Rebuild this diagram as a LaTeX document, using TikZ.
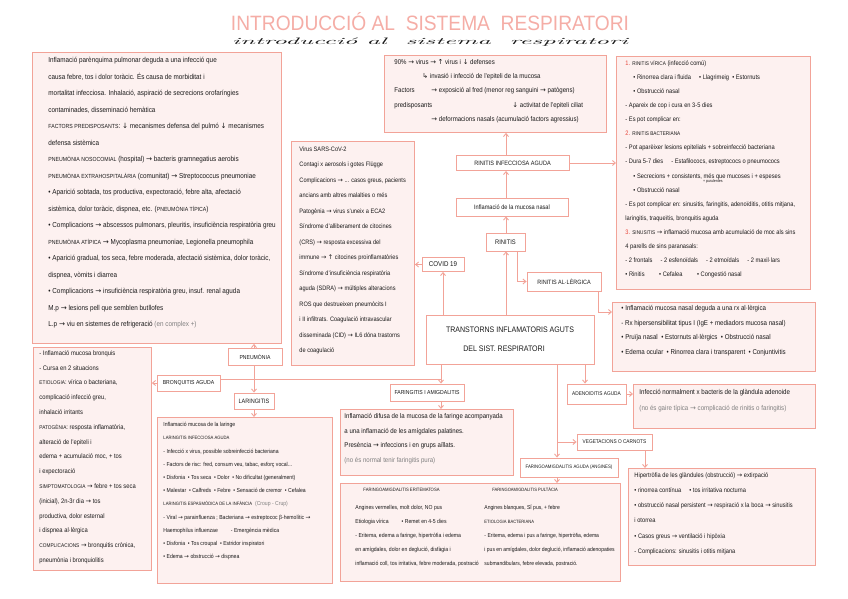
\documentclass[tikz,border=0pt]{standalone}
\usepackage{graphicx}
\usepackage{fontspec}
\setmainfont{Liberation Sans}[FakeStretch=0.88]
\newfontfamily\symf{DejaVu Sans}
\newfontfamily\scriptf{Latin Modern Roman}
\usetikzlibrary{arrows.meta}
\definecolor{linec}{HTML}{F2A398}
\definecolor{fillc}{HTML}{FDF1F0}
\definecolor{titc}{HTML}{F5ADA6}
\definecolor{redc}{HTML}{E8483C}
\definecolor{grayc}{HTML}{808080}
\definecolor{inkc}{HTML}{1A1A1A}
\newcommand\ra{{\symf\char"2192}}
\newcommand\ua{{\symf\char"2191}}
\newcommand\da{{\symf\char"2193}}
\newcommand\lsh{{\symf\char"21B3}}
\makeatletter
\newcommand\sca[1]{{\fontsize{\strip@pt\dimexpr0.82\dimexpr\f@size pt\relax\relax}{8}\selectfont #1}}
\makeatother
\newcommand\cardtxt[6]{\parbox[c][#2pt][t]{#1pt}{#5\leftskip=#3pt\rightskip=0pt plus 8em\parindent=0pt\parfillskip=0pt plus 1fil\vspace*{#4pt}#6}}
\tikzset{
  card/.style={draw=linec, fill=fillc, line width=0.9pt, anchor=north west, inner sep=0pt, text=inkc},
  lab/.style={draw=linec, fill=white, line width=0.9pt, inner sep=0pt, text=inkc, font=\fontsize{5.8}{7}\selectfont},
  conn/.style={draw=linec, line width=0.9pt},
  arr/.style={conn, -{Straight Barb[length=3pt,width=5pt]}},
}
\begin{document}
\begin{tikzpicture}[x=1pt,y=-1pt]
\useasboundingbox (0,0) rectangle (848,599);
\fill[white] (0,0) rectangle (848,599);

% title
\node[text=titc, inner sep=0pt] (title) at (430,22) {\resizebox{398pt}{18pt}{INTRODUCCIÓ AL\ \ SISTEMA\ \ RESPIRATORI}};
\node[text=inkc, inner sep=0pt] (subtitle) at (430,42.5) {\resizebox{396pt}{6.5pt}{\scriptf\itshape introducció al\ \ sistema\ \ respiratori}};

% pneumonia box
\node[card] (pneubox) at (32,52) {\cardtxt{249}{291}{16}{5}{\fontsize{7.2}{16.5}\selectfont}{%
Inflamació parènquima pulmonar deguda a una infecció que\\
causa febre, tos i dolor toràcic. És causa de morbiditat i\\
mortalitat infecciosa. Inhalació, aspiració de secrecions orofaríngies\\
contaminades, disseminació hemàtica\\
\sca{FACTORS PREDISPOSANTS}: \da\ mecanismes defensa del pulmó \da\ mecanismes\\
defensa sistèmica\\
\sca{PNEUMÒNIA NOSOCOMIAL} (hospital) \ra\ bacteris gramnegatius aerobis\\
\sca{PNEUMÒNIA EXTRAHOSPITALÀRIA} (comunitat) \ra\ Streptococcus pneumoniae\\
• Aparició sobtada, tos productiva, expectoració, febre alta, afectació\\
sistèmica, dolor toràcic, dispnea, etc. (\sca{PNEUMÒNIA TÍPICA})\\
• Complicacions \ra\ abscessos pulmonars, pleuritis, insuficiència respiratòria greu\\
\sca{PNEUMÒNIA ATÍPICA} \ra\ Mycoplasma pneumoniae, Legionella pneumophila\\
• Aparició gradual, tos seca, febre moderada, afectació sistèmica, dolor toràcic,\\
dispnea, vòmits i diarrea\\
• Complicacions \ra\ insuficiència respiratòria greu, insuf. renal aguda\\
M.p \ra\ lesions pell que semblen butllofes\\
L.p \ra\ viu en sistemes de refrigeració {\color{grayc}(en complex +)}}};

% top box
\node[card] (topbox) at (384,55) {\cardtxt{222}{77}{10}{4}{\fontsize{6.9}{14.2}\selectfont}{%
90\% \ra\ virus \ra\ \ua\ virus i \da\ defenses\\
\hspace*{28pt}\lsh\ invasió i infecció de l'epiteli de la mucosa\\
\makebox[37pt][l]{Factors}\ra\ exposició al fred (menor reg sanguini \ra\ patògens)\\
\makebox[118pt][l]{predisposants}\da\ activitat de l'epiteli ciliat\\
\hspace*{37pt}\ra\ deformacions nasals (acumulació factors agressius)}};

% right box 1
\node[card] (rbox1) at (616,56) {\cardtxt{194}{233}{9}{4}{\fontsize{6.5}{14.1}\selectfont}{%
{\color{redc}1.} \sca{RINITIS VÍRICA} (infecció comú)\\
\hspace*{8pt}• Rinorrea clara i fluida \quad • Llagrimeig \ • Estornuts\\
\hspace*{8pt}• Obstrucció nasal\\
- Apareix de cop i cura en 3-5 dies\\
- Es pot complicar en:\\
{\color{redc}2.} \sca{RINITIS BACTERIANA}\\
- Pot aparèixer lesions epitelials + sobreinfecció bacteriana\\
- Dura 5-7 dies \quad - Estafilococs, estreptococs o pneumococs\\
\hspace*{8pt}• Secrecions + consistents,\rlap{\raisebox{-4.5pt}{\fontsize{4}{4}\selectfont\ + purulentes}} més que mucoses i + espeses\\
\hspace*{8pt}• Obstrucció nasal\\
- Es pot complicar en: sinusitis, faringitis, adenoïditis, otitis mitjana,\\
laringitis, traqueïtis, bronquitis aguda\\
{\color{redc}3.} \sca{SINUSITIS} \ra\ inflamació mucosa amb acumulació de moc als sins\\
4 parells de sins paranasals:\\
- 2 frontals \quad - 2 esfenoïdals \quad - 2 etmoïdals \quad - 2 maxil·lars\\
• Rinitis \qquad • Cefalea \qquad • Congestió nasal}};

% right box 2
\node[card] (rbox2) at (612,302) {\cardtxt{203}{69}{9}{3}{\fontsize{7}{14.6}\selectfont}{%
• Inflamació mucosa nasal deguda a una rx al·lèrgica\\
- Rx hipersensibilitat tipus I (IgE + mediadors mucosa nasal)\\
• Pruïja nasal \ • Estornuts al·lèrgics \ • Obstrucció nasal\\
• Edema ocular \ • Rinorrea clara i transparent \ • Conjuntivitis}};

% covid box
\node[card] (covidbox) at (291,141) {\cardtxt{123}{224}{8}{5}{\fontsize{6.4}{15.5}\selectfont}{%
Virus SARS-CoV-2\\
Contagi x aerosols i gotes Flügge\\
Complicacions \ra\ ... casos greus, pacients\\
ancians amb altres malalties o més\\
Patogènia \ra\ virus s'uneix a ECA2\\
Síndrome d'alliberament de citocines\\
(CRS) \ra\ resposta excessiva del\\
immune \ra\ \ua\ citocines proinflamatòries\\
Síndrome d'insuficiència respiratòria\\
aguda (SDRA) \ra\ múltiples alteracions\\
ROS que destrueixen pneumòcits I\\
i II infiltrats. Coagulació intravascular\\
disseminada (CID) \ra\ IL6 dóna trastorns\\
de coagulació}};

% bronquitis box
\node[card] (bronbox) at (33,347) {\cardtxt{118}{223}{6}{3}{\fontsize{6.6}{14.8}\selectfont}{%
- Inflamació mucosa bronquis\\
- Cursa en 2 situacions\\
\sca{ETIOLOGIA}: vírica o bacteriana,\\
complicació infecció greu,\\
inhalació irritants\\
\sca{PATOGÈNIA}: resposta inflamatòria,\\
alteració de l'epiteli i\\
edema + acumulació moc, + tos\\
i expectoració\\
\sca{SIMPTOMATOLOGIA} \ra\ febre + tos seca\\
(inicial), 2n-3r dia \ra\ tos\\
productiva, dolor esternal\\
i dispnea al·lèrgica\\
\sca{COMPLICACIONS} \ra\ bronquitis crònica,\\
pneumònia i bronquiolitis}};

% laringitis box
\node[card] (larbox) at (157,417) {\cardtxt{175}{166}{6}{5}{\fontsize{5.8}{13.2}\selectfont}{%
Inflamació mucosa de la laringe\\
\sca{LARINGITIS INFECCIOSA AGUDA}\\
- Infecció x virus, possible sobreinfecció bacteriana\\
- Factors de risc: fred, consum veu, tabac, esforç vocal...\\
• Disfonia \ • Tos seca \ • Dolor \ • No dificultat (generalment)\\
• Malestar \ • Calfreds \ • Febre \ • Sensació de cremor \ • Cefalea\\
\sca{LARINGITIS ESPASMÒDICA DE LA INFÀNCIA} \ {\color{grayc}(Croup - Crup)}\\
- Viral \ra\ parainfluenza ; Bacteriana \ra\ estreptococ β-hemolític \ra\\
Haemophilus influenzae \qquad - Emergència mèdica\\
• Disfonia \ • Tos croupal \ • Estridor inspiratori\\
• Edema \ra\ obstrucció \ra\ dispnea}};

% faringitis box
\node[card] (farbox) at (340,409) {\cardtxt{173}{66}{4}{4}{\fontsize{6.9}{14.5}\selectfont}{%
Inflamació difusa de la mucosa de la faringe acompanyada\\
a una inflamació de les amígdales palatines.\\
Presència \ra\ infeccions i en grups aïllats.\\
{\color{grayc}(no és normal tenir faringitis pura)}}};

% angines box
\node[card] (angbox) at (340,483) {\cardtxt{280}{98}{0}{4}{\fontsize{5.8}{14}\selectfont}{%
\hspace*{15pt}\parbox[t]{125pt}{\raggedright
\hspace*{8pt}\sca{FARINGOAMIGDALITIS ERITEMATOSA}\\[4pt]
Angines vermelles, molt dolor, NO pus\\
Etiologia vírica \qquad • Remet en 4-5 dies\\
- Eritema, edema a faringe, hipertròfia i edema\\
en amígdales, dolor en deglució, disfàgia i\\
inflamació coll, tos irritativa, febre moderada, postració}%
\hspace{4pt}\parbox[t]{135pt}{\raggedright\fontsize{5.7}{14}\selectfont
\hspace*{8pt}\sca{FARINGOAMIGDALITIS PULTÀCIA}\\[4pt]
Angines blanques, SÍ pus, + febre\\
\sca{ETIOLOGIA BACTERIANA}\\
- Eritema, edema i pus a faringe, hipertròfia, edema\\
i pus en amígdales, dolor deglució, inflamació adenopaties\\
submandibulars, febre elevada, postració.}}};

% adenoiditis box
\node[card] (adenbox) at (633,384) {\cardtxt{182}{44}{6}{5}{\fontsize{7}{16}\selectfont}{%
Infecció normalment x bacteris de la glàndula adenoide\\
{\color{grayc}(no és gaire típica \ra\ complicació de rinitis o faringitis)}}};

% hipertrofia box
\node[card] (hipbox) at (628,468) {\cardtxt{187}{97}{6}{4}{\fontsize{6.5}{15.2}\selectfont}{%
Hipertròfia de les glàndules (obstrucció) \ra\ extirpació\\
• rinorrea contínua \quad • tos irritativa nocturna\\
• obstrucció nasal persistent \ra\ respiració x la boca \ra\ sinusitis\\
\ i otorrea\\
• Casos greus \ra\ ventilació i hipòxia\\
- Complicacions: sinusitis i otitis mitjana}};

% label nodes
\node[lab, minimum width=168pt, minimum height=49pt, font=\fontsize{8}{9}\selectfont, align=center] (trast) at (510,339.5) {TRANSTORNS INFLAMATORIS AGUTS\\[10pt]DEL SIST. RESPIRATORI\hspace*{12pt}};
\node[lab, minimum width=42pt, minimum height=14pt, font=\fontsize{7}{8}\selectfont] (covidn) at (443,264.5) {COVID 19};
\node[lab, minimum width=39pt, minimum height=18pt, font=\fontsize{6.6}{8}\selectfont] (rin) at (505.5,242) {RINITIS};
\node[lab, minimum width=112pt, minimum height=18pt, font=\fontsize{6.4}{7}\selectfont] (infl) at (512,207) {Inflamació de la mucosa nasal};
\node[lab, minimum width=113pt, minimum height=15pt, font=\fontsize{6.3}{7}\selectfont] (rininf) at (512.5,163) {RINITIS INFECCIOSA AGUDA};
\node[lab, minimum width=74pt, minimum height=19pt, font=\fontsize{6.2}{7}\selectfont] (rinal) at (564,281.5) {RINITIS AL·LÈRGICA};
\node[lab, minimum width=54pt, minimum height=17pt] (pneun) at (255,357) {PNEUMÒNIA};
\node[lab, minimum width=63pt, minimum height=16pt] (bronn) at (188.5,383) {BRONQUITIS AGUDA};
\node[lab, minimum width=40pt, minimum height=16pt, font=\fontsize{6.3}{7}\selectfont] (larn) at (254,401) {LARINGITIS};
\node[lab, minimum width=74pt, minimum height=17pt] (farn) at (427,392.5) {FARINGITIS I AMIGDALITIS};
\node[lab, minimum width=59pt, minimum height=20pt, font=\fontsize{5.4}{7}\selectfont] (adenn) at (596.5,394) {ADENOIDITIS AGUDA};
\node[lab, minimum width=75pt, minimum height=16pt, font=\fontsize{5.4}{7}\selectfont] (vegn) at (614.5,442) {VEGETACIONS O CARNOTS};
\node[lab, minimum width=98pt, minimum height=19pt, font=\fontsize{4.9}{7}\selectfont] (fan) at (569,467.5) {FARINGOAMIGDALITIS AGUDA (ANGINES)};

% helper coordinates
\coordinate (colx) at (506,0);
\coordinate (colp) at (254,0);
\coordinate (colt) at (441,379);
\coordinate (colr) at (557,0);
\coordinate (cad) at (585,0);
\coordinate (colv) at (645,0);
\coordinate (rj) at (517,0);
\coordinate (aj) at (598,312);

% connectors
\draw[arr] (trast.north -| covidn) -- (covidn.south);
\draw[arr] (covidn.west) -- (covidn.west -| covidbox.east);
\draw[arr] (trast.north -| colx) -- (rin.south -| colx);
\draw[arr] (rin.north -| colx) -- (infl.south -| colx);
\draw[arr] (infl.north -| colx) -- (rininf.south -| colx);
\draw[arr] (rininf.north -| colx) -- (topbox.south -| colx);
\draw[arr] (rininf.east) -- (rininf.east -| rbox1.west);
\draw[arr] (rin.south -| rj) |- (rinal.west);
\draw[arr] (rinal.south -| aj) |- (aj -| rbox2.west);
\draw[arr] (pneun.north -| colp) -- (pneubox.south -| colp);
\draw[conn] (trast.south -| colt) -- (colt);
\draw[arr] (colt) -- (farn.north -| colt);
\draw[conn] (colt) -- (colt -| bronn.east);
\draw[arr] (bronn.west) -- (bronn.west -| bronbox.east);
\draw[arr] (pneun.south -| colp) -- (larn.north -| colp);
\draw[arr] (larn.south -| colp) -- (larbox.north -| colp);
\draw[arr] (farn.south -| colt) -- (farbox.north -| colt);
\draw[arr] (trast.south -| cad) -- (adenn.north -| cad);
\draw[arr] (adenn.east) -- (adenn.east -| adenbox.west);
\draw[arr] (trast.south -| colr) -- (fan.north -| colr);
\draw[arr] (vegn.west -| colr) -- (vegn.west);
\draw[arr] (vegn.south -| colv) -- (hipbox.north -| colv);
\draw[arr] (fan.south -| colr) -- (angbox.north -| colr);
\end{tikzpicture}
\end{document}
